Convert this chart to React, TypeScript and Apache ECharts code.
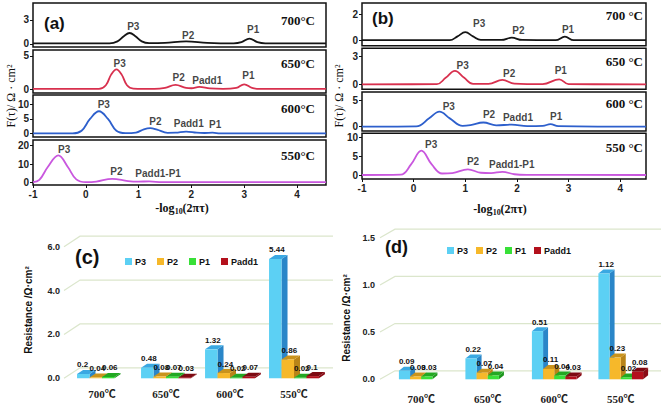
import React, { useEffect, useRef } from "react";
import * as echarts from "echarts";

// ---------- DRT curves, panel (a) ----------
const curveA700 = [[-1,0.05],[0.45,0.05],[0.6,0.3],[0.72,0.95],[0.83,1.35],[0.94,0.95],[1.06,0.3],[1.2,0.08],[1.5,0.12],[1.9,0.3],[2.3,0.12],[2.8,0.05],[2.95,0.2],[3.1,0.65],[3.25,0.2],[3.4,0.05],[4.55,0.05]];
const curveA650 = [[-1,0.05],[0.25,0.05],[0.38,0.6],[0.48,2.2],[0.58,3.0],[0.68,2.2],[0.78,0.6],[0.9,0.1],[1.3,0.05],[1.5,0.2],[1.7,0.65],[1.9,0.2],[2.0,0.15],[2.15,0.35],[2.35,0.12],[2.6,0.05],[2.85,0.2],[3.0,0.75],[3.15,0.2],[3.3,0.05],[4.55,0.05]];
const curveA600 = [[-1,0.1],[-0.25,0.1],[-0.08,1.0],[0.08,5.0],[0.25,7.6],[0.42,5.0],[0.58,1.0],[0.75,0.2],[0.95,0.4],[1.1,1.5],[1.22,1.9],[1.35,1.4],[1.55,0.3],[1.7,0.35],[1.9,0.75],[2.1,0.35],[2.25,0.25],[2.4,0.35],[2.55,0.1],[4.55,0.1]];
const curveA550 = [[-1,0.3],[-0.88,1.5],[-0.72,8.5],[-0.52,14.8],[-0.34,8.5],[-0.18,1.8],[0,0.3],[0.2,0.6],[0.5,2.1],[0.8,0.9],[1.0,0.6],[1.2,0.7],[1.45,0.3],[1.8,0.3],[4.55,0.3]];

// ---------- DRT curves, panel (b) ----------
const curveB700 = [[-1,0],[0.7,0],[0.85,0.3],[1.0,0.63],[1.15,0.3],[1.3,0.02],[1.7,0.02],[1.9,0.2],[2.1,0.02],[2.75,0],[2.93,0.28],[3.1,0],[4.5,0]];
const curveB650 = [[-1,0],[0.45,0.02],[0.62,0.7],[0.8,1.45],[0.98,0.7],[1.15,0.05],[1.45,0.05],[1.72,0.47],[1.95,0.08],[2.5,0.02],[2.82,0.54],[3.0,0.02],[4.5,0]];
const curveB600 = [[-1,0],[0.05,0.05],[0.3,1.6],[0.5,2.9],[0.7,1.6],[0.95,0.15],[1.1,0.3],[1.35,0.8],[1.6,0.25],[1.9,0.4],[2.2,0.1],[2.5,0.15],[2.65,0.5],[2.8,0.1],[4.5,0]];
const curveB550 = [[-1,0],[-0.25,0.1],[-0.05,2.8],[0.15,6.45],[0.35,2.8],[0.55,0.4],[0.75,0.5],[1.05,1.5],[1.3,0.6],[1.5,0.5],[1.72,0.85],[1.95,0.2],[2.2,0.05],[4.5,0]];

// ---------- peak labels [x, y, text] ----------
const peaksA700 = [[0.9,2.2,"P3"],[1.94,1.1,"P2"],[3.17,1.75,"P1"]];
const peaksA650 = [[0.64,3.9,"P3"],[1.76,1.8,"P2"],[2.3,1.36,"Padd1"],[3.08,2.1,"P1"]];
const peaksA600 = [[0.34,10,"P3"],[1.32,4.1,"P2"],[1.95,3.6,"Padd1"],[2.45,3.0,"P1"]];
const peaksA550 = [[-0.41,18,"P3"],[0.58,6,"P2"],[1.37,5.1,"Padd1-P1"]];
const peaksB700 = [[1.27,1.34,"P3"],[2.03,0.76,"P2"],[2.99,0.87,"P1"]];
const peaksB650 = [[0.95,2.0,"P3"],[1.85,1.12,"P2"],[2.85,1.45,"P1"]];
const peaksB600 = [[0.68,3.85,"P3"],[1.46,2.4,"P2"],[2.02,1.73,"Padd1"],[2.76,1.92,"P1"]];
const peaksB550 = [[0.34,8.1,"P3"],[1.15,3.5,"P2"],[1.9,2.9,"Padd1-P1"]];

const tempsA = ["700°C", "650°C", "600°C", "550°C"];
const tempsB = ["700 °C", "650 °C", "600 °C", "550 °C"];
const yTicksA = [[0, 3], [0, 5], [0, 5, 10], [0, 10, 20]];
const yTicksB = [[0, 2], [0, 3], [0, 5], [0, 5, 10]];

// ---------- bar data ----------
const barCategories = ["700℃", "650℃", "600℃", "550℃"];
const seriesNames = ["P3", "P2", "P1", "Padd1"];
const cP3 = [0.2, 0.48, 1.32, 5.44];
const cP2 = [0.04, 0.08, 0.24, 0.86];
const cP1 = [0.06, 0.07, 0.02, 0.02];
const cPadd1 = [null, 0.03, 0.07, 0.1];
const dP3 = [0.09, 0.22, 0.51, 1.12];
const dP2 = [0.03, 0.07, 0.11, 0.23];
const dP1 = [0.03, 0.04, 0.04, 0.02];
const dPadd1 = [null, null, 0.03, 0.08];
const cTicks = [0, 2, 4, 6];
const dTicks = [0, 0.5, 1, 1.5];

const lineColors = ["#151515", "#d8304e", "#2d5fcc", "#c957de"];
const barColors = [
  { front: "#5cd0f4", top: "#3aa8e2", side: "#2a86c8" },
  { front: "#f6b82a", top: "#c9931c", side: "#b98418" },
  { front: "#38e038", top: "#22a822", side: "#1e961e" },
  { front: "#b3101c", top: "#7e0a12", side: "#8a0c16" },
];

const SANS = "Liberation Sans, Arial, sans-serif";
const SERIF = "Liberation Serif, Times New Roman, serif";

export default function App() {
  const ref = useRef<HTMLDivElement>(null);
  useEffect(() => {
    document.body.style.margin = "0";
    const chart = echarts.init(ref.current!, null, { renderer: "svg" });

    const lineGrids = [
      { left: 33, right: 335, top: 3, height: 44 },
      { left: 33, right: 335, top: 50, height: 43 },
      { left: 33, right: 335, top: 95, height: 42 },
      { left: 33, right: 335, top: 140, height: 45 },
      { left: 362, right: 15, top: 3, height: 42.7 },
      { left: 362, right: 15, top: 48.3, height: 41 },
      { left: 362, right: 15, top: 92, height: 39 },
      { left: 362, right: 15, top: 133.3, height: 45.7 },
    ];
    const yRanges = [
      [-0.4, 5.1], [-0.56, 5.9], [-1.1, 13.1], [-1.24, 23.1],
      [-0.43, 2.92], [-0.54, 3.9], [-0.83, 6.67], [-1.06, 11.06],
    ];
    const curves = [curveA700, curveA650, curveA600, curveA550, curveB700, curveB650, curveB600, curveB550];
    const peaks = [peaksA700, peaksA650, peaksA600, peaksA550, peaksB700, peaksB650, peaksB600, peaksB550];
    const yTicks = [...yTicksA, ...yTicksB];

    const grids: any[] = lineGrids.map((g) => ({
      ...g,
      show: true,
      borderColor: "#111",
      borderWidth: 1.5,
    }));
    grids.push({ left: 70, width: 256, top: 246.7, height: 131.6 });
    grids.push({ left: 388, width: 266, top: 237.7, height: 141.6 });

    const xAxes: any[] = lineGrids.map((g, i) => {
      const bottom = i === 3 || i === 7;
      return {
        type: "value",
        gridIndex: i,
        position: "bottom",
        min: -1,
        max: i < 4 ? 4.55 : 4.5,
        interval: 1,
        show: bottom,
        axisLine: { show: false, onZero: false },
        splitLine: { show: false },
        axisTick: { show: bottom, length: 3, lineStyle: { color: "#111" } },
        axisLabel: {
          show: bottom,
          margin: 4,
          fontSize: 10,
          fontWeight: "bold",
          fontFamily: SANS,
          color: "#222",
          showMaxLabel: false,
        },
      };
    });
    const yAxes: any[] = lineGrids.map((g, i) => ({
      type: "value",
      gridIndex: i,
      position: "left",
      min: yRanges[i][0],
      max: yRanges[i][1],
      axisLine: { show: false, onZero: false },
      splitLine: { show: false },
      axisTick: { show: true, length: 3, customValues: yTicks[i], lineStyle: { color: "#111" } },
      axisLabel: {
        customValues: yTicks[i],
        margin: 4,
        fontSize: 10,
        fontWeight: "bold",
        fontFamily: SANS,
        color: "#222",
      },
    }));

    const barCfg = [
      { grid: 8, data: [cP3, cP2, cP1, cPadd1], max: 6, interval: 2, ratio: 0.195, dx: 6, dy: 4, wallDx: 10, wallDy: 10.5, start: 6, right: 333, ticks: cTicks, labelMargin: 10, yMargin: 10 },
      { grid: 9, data: [dP3, dP2, dP1, dPadd1], max: 1.5, interval: 0.5, ratio: 0.168, dx: 5, dy: 4, wallDx: 7, wallDy: 8.5, start: 8, right: 661, ticks: dTicks, labelMargin: 14, yMargin: 13 },
    ];

    barCfg.forEach((b) => {
      xAxes.push({
        type: "category",
        gridIndex: b.grid,
        position: "bottom",
        data: barCategories,
        axisLine: { show: false, onZero: false },
        axisTick: { show: false },
        axisLabel: {
          margin: b.labelMargin,
          fontSize: 11,
          fontWeight: "bold",
          fontFamily: SERIF + ", Noto Sans CJK SC",
          color: "#222",
        },
      });
      yAxes.push({
        type: "value",
        gridIndex: b.grid,
        position: "left",
        min: 0,
        max: b.max,
        interval: b.interval,
        axisLine: { show: false, onZero: false },
        axisTick: { show: false },
        splitLine: { show: false },
        axisLabel: {
          margin: b.yMargin,
          fontSize: 9,
          fontWeight: "bold",
          fontFamily: SANS,
          color: "#222",
          formatter: (v: number) => v.toFixed(1),
        },
      });
    });

    const series: any[] = [];
    curves.forEach((c, i) => {
      series.push({
        type: "line",
        xAxisIndex: i,
        yAxisIndex: i,
        data: c,
        smooth: 0.4,
        showSymbol: false,
        silent: true,
        lineStyle: { color: lineColors[i % 4], width: 1.8 },
        itemStyle: { color: lineColors[i % 4] },
        z: 3,
      });
      series.push({
        type: "scatter",
        xAxisIndex: i,
        yAxisIndex: i,
        data: peaks[i],
        symbolSize: 1,
        itemStyle: { color: "rgba(0,0,0,0)" },
        silent: true,
        label: {
          show: true,
          position: "inside",
          formatter: (p: any) => p.value[2],
          fontSize: 10,
          fontWeight: "bold",
          fontFamily: SANS,
          color: "#111",
        },
        z: 4,
      });
    });

    barCfg.forEach((b) => {
      series.push({
        type: "custom",
        xAxisIndex: b.grid,
        yAxisIndex: b.grid,
        silent: true,
        z: 1,
        data: b.ticks.map((t) => [0, t]),
        renderItem: (params: any, api: any) => {
          const cs = params.coordSys;
          const y = api.coord([0, api.value(1)])[1];
          return {
            type: "polyline",
            shape: {
              points: [
                [cs.x - b.start, y],
                [cs.x + b.wallDx, y - b.wallDy],
                [b.right, y - b.wallDy],
              ],
            },
            style: { stroke: "#dbe6cc", lineWidth: 1.2, fill: null },
          };
        },
      });
      b.data.forEach((vals, k) => {
        const col = barColors[k];
        series.push({
          type: "custom",
          name: seriesNames[k],
          xAxisIndex: b.grid,
          yAxisIndex: b.grid,
          z: 2 + k * 0.01,
          itemStyle: { color: col.front },
          data: vals.map((v, i) => (v == null ? null : [i, v])).filter((d) => d !== null),
          renderItem: (params: any, api: any) => {
            const cat = api.value(0);
            const v = api.value(1);
            const [cx, y0] = api.coord([cat, 0]);
            const yT = api.coord([cat, v])[1];
            const band = api.size([1, 0])[0];
            const bw = band * b.ratio;
            const x0 = cx - 2 * bw + k * bw;
            const x1 = x0 + bw;
            const { dx, dy } = b;
            return {
              type: "group",
              children: [
                {
                  type: "polygon",
                  shape: { points: [[x1, yT], [x1 + dx, yT - dy], [x1 + dx, y0 - dy], [x1, y0]] },
                  style: { fill: col.side },
                },
                {
                  type: "polygon",
                  shape: { points: [[x0, yT], [x0 + dx, yT - dy], [x1 + dx, yT - dy], [x1, yT]] },
                  style: { fill: col.top },
                },
                {
                  type: "rect",
                  shape: { x: x0, y: yT, width: bw, height: Math.max(y0 - yT, 0.5) },
                  style: { fill: col.front },
                },
                {
                  type: "text",
                  z2: 10,
                  style: {
                    text: String(v),
                    x: x0,
                    y: yT - dy - 1,
                    align: "left",
                    verticalAlign: "bottom",
                    font: "bold 8px " + SANS,
                    fill: "#111",
                  },
                },
              ],
            };
          },
        });
      });
    });

    const graphic: any[] = [];
    const tYa = [20, 63, 108, 155];
    const tYb = [15, 61, 103, 147];
    tempsA.forEach((t, i) =>
      graphic.push({ type: "text", x: 315, y: tYa[i], style: { text: t, align: "right", verticalAlign: "middle", font: "bold 13px " + SERIF, fill: "#111" } })
    );
    tempsB.forEach((t, i) =>
      graphic.push({ type: "text", x: 643, y: tYb[i], style: { text: t, align: "right", verticalAlign: "middle", font: "bold 13px " + SERIF, fill: "#111" } })
    );
    graphic.push({ type: "text", x: 44, y: 23, style: { text: "(a)", align: "left", verticalAlign: "middle", font: "bold 17px " + SANS, fill: "#111" } });
    graphic.push({ type: "text", x: 372, y: 18, style: { text: "(b)", align: "left", verticalAlign: "middle", font: "bold 17px " + SANS, fill: "#111" } });
    graphic.push({ type: "text", x: 75, y: 257, style: { text: "(c)", align: "left", verticalAlign: "middle", font: "bold 20px " + SANS, fill: "#111" } });
    graphic.push({ type: "text", x: 385, y: 247, style: { text: "(d)", align: "left", verticalAlign: "middle", font: "bold 18px " + SANS, fill: "#111" } });
    [11, 339].forEach((x) =>
      graphic.push({
        type: "text", x, y: 96, rotation: Math.PI / 2,
        style: { text: "F(τ)/ Ω · cm²", align: "center", verticalAlign: "middle", font: "12px " + SERIF, fill: "#111" },
      })
    );
    [[182, 208], [500, 209]].forEach(([x, y]) =>
      graphic.push({
        type: "text", x, y,
        style: {
          text: "{a|-log}{b|10}{a|(2πτ)}",
          align: "center",
          verticalAlign: "middle",
          rich: {
            a: { font: "bold 12px " + SERIF, fill: "#111", verticalAlign: "middle" },
            b: { font: "bold 8px " + SERIF, fill: "#111", verticalAlign: "bottom", padding: [6, 0, 0, 0] },
          },
        },
      })
    );
    [[28, 310], [346, 318]].forEach(([x, y]) =>
      graphic.push({
        type: "text", x, y, rotation: Math.PI / 2,
        style: { text: "Resistance /Ω·cm²", align: "center", verticalAlign: "middle", font: "bold 10px " + SANS, fill: "#111" },
      })
    );

    const legendBase = {
      data: seriesNames,
      icon: "rect",
      itemWidth: 7,
      itemHeight: 7,
      selectedMode: false,
      textStyle: { fontSize: 9, fontWeight: "bold", fontFamily: SANS, color: "#111", padding: [0, 0, 0, -2] },
    };

    chart.setOption({
      animation: false,
      backgroundColor: "#fff",
      grid: grids,
      xAxis: xAxes,
      yAxis: yAxes,
      series,
      graphic,
      legend: [
        { ...legendBase, itemGap: 11, left: 120, top: 252 },
        { ...legendBase, itemGap: 8, left: 442, top: 241 },
      ],
    });
    return () => chart.dispose();
  }, []);
  return <div ref={ref} style={{ width: 661, height: 406 }} />;
}
